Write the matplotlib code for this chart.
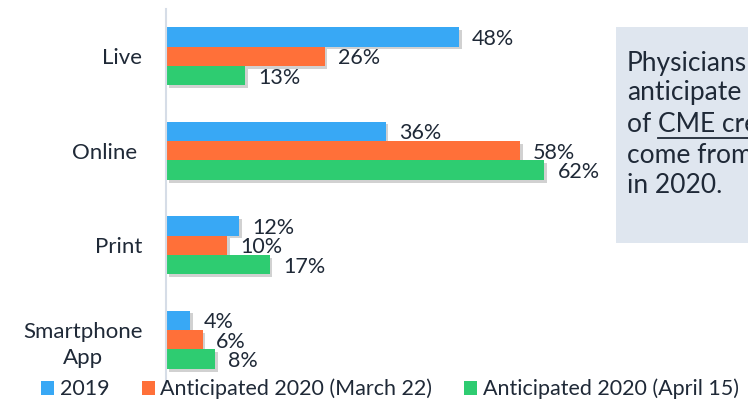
import matplotlib
matplotlib.use("Agg")
import matplotlib.pyplot as plt
import matplotlib.patheffects as pe
from matplotlib.patches import Patch, Rectangle
import numpy as np

# --- data ---
categories = ["Live", "Online ", "Print", "Smartphone\nApp"]
series_names = ["2019", "Anticipated 2020 (March 22)", "Anticipated 2020 (April 15)"]
vals_2019 = [48, 36, 12, 4]
vals_march = [26, 58, 10, 6]
vals_april = [13, 62, 17, 8]
box_lines = ["Physicians", "anticipate", "of ", "come from", "in 2020."]
box_underlined = "CME credits"

colors = ["#38A8F5", "#FF7039", "#2ECC71"]
text_color = "#1F2937"

plt.rcParams["font.family"] = ["Lato", "DejaVu Sans"]

W, H = 748, 407
fig = plt.figure(figsize=(W / 100, H / 100), dpi=100)
ax = fig.add_axes([166 / W, 1 - 387 / H, 427 / W, 378 / H])

y = np.arange(len(categories))
bh = 0.206
shadow = [pe.SimplePatchShadow(offset=(2, -2), shadow_rgbFace="black", alpha=0.18), pe.Normal()]

for i, (vals, c) in enumerate(zip([vals_2019, vals_march, vals_april], colors)):
    bars = ax.barh(y + (i - 1) * bh, vals, height=bh, color=c, label=series_names[i])
    for b, v in zip(bars, vals):
        b.set_path_effects(shadow)
        ax.annotate(f"{v}%", (v, b.get_y() + bh / 2), xytext=(9.5, -1.5),
                    textcoords="offset points", va="center", ha="left",
                    fontsize=15.5, color=text_color)

ax.set_xlim(0, 70)
ax.set_ylim(len(categories) - 0.5, -0.5)
ax.set_yticks(y)
ax.set_yticklabels(categories, fontsize=16, color=text_color, linespacing=1.4)
for lbl in ax.get_yticklabels():
    lbl.set_multialignment("center")
ax.tick_params(axis="y", length=0, pad=17)
ax.set_xticks([])
for s in ["top", "right", "bottom"]:
    ax.spines[s].set_visible(False)
ax.spines["left"].set_color("#D6DDE7")
ax.spines["left"].set_linewidth(1.5)

# legend
handles = [Patch(facecolor=c, edgecolor="none") for c in colors]
fig.legend(handles, series_names, loc="center", bbox_to_anchor=(390 / W, 1 - 389 / H),
           ncol=3, frameon=False, fontsize=15.5, handlelength=0.6, handleheight=0.6,
           handletextpad=0.25, columnspacing=1.5, labelcolor=text_color,
           borderpad=0, borderaxespad=0)

# text box on the right, cut by the figure edge
fig.patches.append(Rectangle((616 / W, 1 - 243 / H), 200 / W, 216 / H,
                             transform=fig.transFigure, facecolor="#DFE6EF",
                             edgecolor="none", zorder=0))
baselines = [71, 100, 132, 163, 193]
for line, yb in zip(box_lines, baselines):
    fig.text(627 / W, 1 - yb / H, line, fontsize=19, color=text_color,
             va="baseline", ha="left")

r = fig.canvas.get_renderer()
of_txt = fig.texts[2]
ext = of_txt.get_window_extent(renderer=r)
x0 = ext.x1
t2 = fig.text(x0 / W, 1 - baselines[2] / H, box_underlined, fontsize=19,
              color=text_color, va="baseline", ha="left")
ext2 = t2.get_window_extent(renderer=r)
uy = (H - baselines[2] - 6) / H
fig.add_artist(plt.Line2D([x0 / W, ext2.x1 / W], [uy, uy], transform=fig.transFigure,
                          color=text_color, linewidth=1.3))

fig.savefig("out.png", dpi=100)
